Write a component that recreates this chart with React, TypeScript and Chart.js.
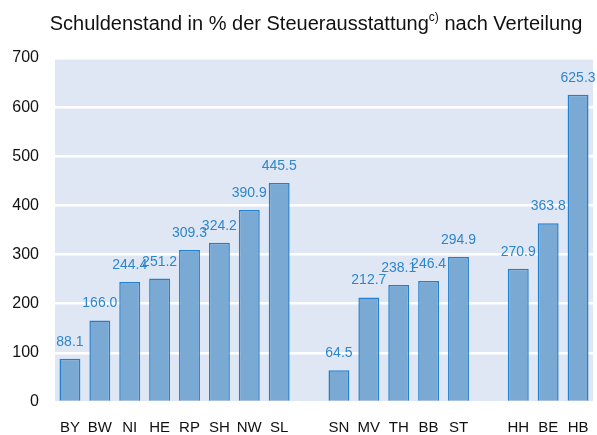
import React, { useEffect, useRef } from "react";
import { Chart, registerables } from "chart.js";

Chart.register(...registerables);

const categories = ["BY", "BW", "NI", "HE", "RP", "SH", "NW", "SL", "", "SN", "MV", "TH", "BB", "ST", " ", "HH", "BE", "HB"];
const values: (number | null)[] = [88.1, 166.0, 244.4, 251.2, 309.3, 324.2, 390.9, 445.5, null, 64.5, 212.7, 238.1, 246.4, 294.9, null, 270.9, 363.8, 625.3];
const yTicks = [0, 100, 200, 300, 400, 500, 600, 700];
const titleMain = "Schuldenstand in % der Steuerausstattung";
const titleSup = "c)";
const titleRest = " nach Verteilung";

const FONT = "'Liberation Sans', Arial, sans-serif";

const bgPlugin = {
  id: "plotBg",
  beforeDraw(chart: any) {
    const { ctx, chartArea } = chart;
    ctx.save();
    ctx.fillStyle = "#e0e7f4";
    ctx.fillRect(chartArea.left, chartArea.top, chartArea.right - chartArea.left, chartArea.bottom - chartArea.top);
    ctx.restore();
  },
};

const titlePlugin = {
  id: "supTitle",
  afterDraw(chart: any) {
    const { ctx } = chart;
    ctx.save();
    ctx.fillStyle = "#111";
    ctx.textBaseline = "alphabetic";
    const mainFont = `20px ${FONT}`;
    const supFont = `12px ${FONT}`;
    ctx.font = mainFont;
    const w1 = ctx.measureText(titleMain).width;
    const w3 = ctx.measureText(titleRest).width;
    ctx.font = supFont;
    const w2 = ctx.measureText(titleSup).width;
    const total = w1 + w2 + w3;
    const cx = 316;
    let x = cx - total / 2;
    const y = 30;
    ctx.textAlign = "left";
    ctx.font = mainFont;
    ctx.fillText(titleMain, x, y);
    x += w1;
    ctx.font = supFont;
    ctx.fillText(titleSup, x, y - 9);
    x += w2;
    ctx.font = mainFont;
    ctx.fillText(titleRest, x, y);
    ctx.restore();
  },
};

const labelPlugin = {
  id: "valueLabels",
  afterDatasetsDraw(chart: any) {
    const { ctx } = chart;
    const meta = chart.getDatasetMeta(0);
    ctx.save();
    ctx.fillStyle = "#2d86cc";
    ctx.font = `14px ${FONT}`;
    ctx.textAlign = "center";
    ctx.textBaseline = "alphabetic";
    meta.data.forEach((bar: any, i: number) => {
      const v = values[i];
      if (v == null) return;
      ctx.fillText(v.toFixed(1), bar.x, bar.y - 13);
    });
    ctx.restore();
  },
};

export default function App() {
  const ref = useRef<HTMLCanvasElement>(null);
  useEffect(() => {
    if (!ref.current) return;
    const chart = new Chart(ref.current, {
      type: "bar",
      data: {
        labels: categories,
        datasets: [
          {
            data: values as any,
            backgroundColor: "#7aa9d4",
            borderColor: "#2480cc",
            borderWidth: 1.5,
            barPercentage: 0.7,
            categoryPercentage: 1,
          },
        ],
      },
      options: {
        animation: false,
        responsive: false,
        layout: { padding: { top: 58, right: 4, left: 0, bottom: 0 } },
        plugins: {
          legend: { display: false },
          tooltip: { enabled: false },
          title: { display: false },
        },
        scales: {
          x: {
            grid: { display: false, drawTicks: false },
            border: { display: false },
            ticks: {
              color: "#111",
              font: { family: FONT, size: 15 },
              padding: 17,
              maxRotation: 0,
              autoSkip: false,
            },
            afterFit(scale: any) {
              scale.height = 33;
              scale.paddingLeft = 0;
              scale.paddingRight = 0;
            },
          },
          y: {
            min: 0,
            max: 700,
            afterBuildTicks(scale: any) {
              scale.ticks = yTicks.map((v) => ({ value: v }));
            },
            grid: { color: "#ffffff", lineWidth: 2.5, drawTicks: false },
            border: { display: false },
            ticks: {
              color: "#111",
              font: { family: FONT, size: 16 },
              padding: 16,
            },
            afterFit(scale: any) {
              scale.width = 55;
              scale.paddingTop = 0;
              scale.paddingBottom = 0;
            },
          },
        },
      },
      plugins: [bgPlugin, titlePlugin, labelPlugin],
    });
    return () => chart.destroy();
  }, []);
  return (
    <div style={{ position: "fixed", left: 0, top: 0, width: 597, height: 435, background: "#fff" }}>
      <canvas ref={ref} width={597} height={435} style={{ width: 597, height: 435 }} />
    </div>
  );
}
